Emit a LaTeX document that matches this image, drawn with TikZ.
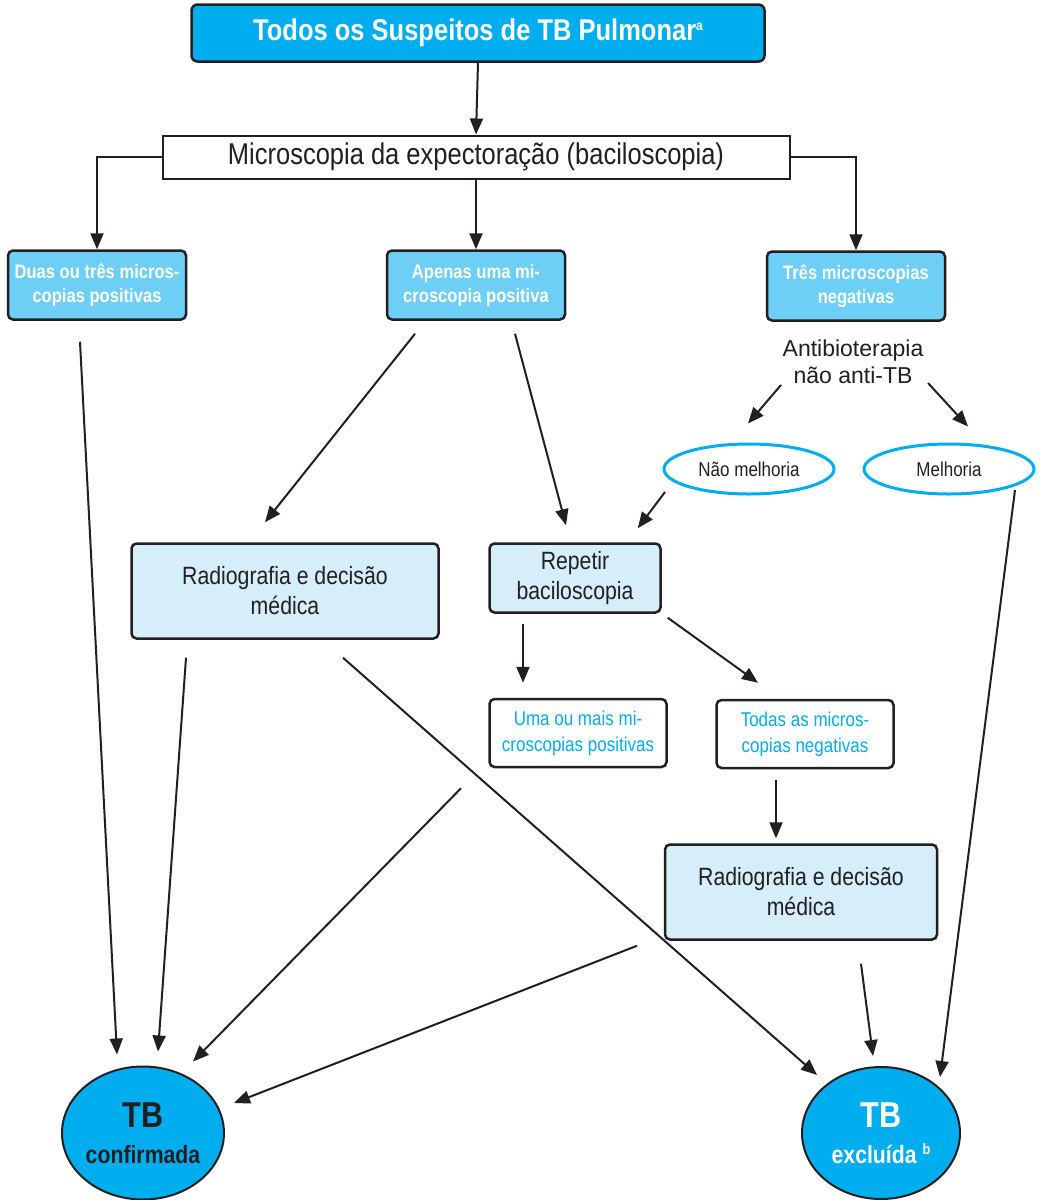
\documentclass[tikz,border=0pt]{standalone}
\usepackage{fontspec}
\setmainfont{Liberation Sans}
\newfontfamily\narrowfont{Liberation Sans}[FakeStretch=0.85]
\usetikzlibrary{arrows.meta,shapes.geometric}
\definecolor{tbblue}{HTML}{00AEEF}
\definecolor{midblue}{HTML}{6DCFF6}
\definecolor{paleblue}{HTML}{D6EEFA}
\definecolor{inkgray}{HTML}{231F20}
\newcommand{\fsz}[2]{\fontsize{#1}{#2}\selectfont}
\begin{document}
\begin{tikzpicture}[x=1pt, y=-1pt,
    every node/.style={font=\narrowfont, text=inkgray},
    arr/.style={-{Triangle[length=16pt,width=13pt]}, line width=2pt, draw=inkgray},
    headbox/.style={draw=inkgray, fill=tbblue, rounded corners=6pt, line width=2.5pt, text=white, font=\narrowfont\bfseries\fsz{30}{34}},
    stepbox/.style={draw=inkgray, fill=midblue, rounded corners=5pt, line width=2.5pt, align=center, text=white, font=\narrowfont\bfseries\fsz{19.5}{24}, minimum width=178pt, minimum height=69pt, inner sep=2pt},
    decbox/.style={draw=inkgray, fill=paleblue, rounded corners=5pt, line width=2.5pt, align=center, font=\narrowfont\fsz{25}{30}, inner sep=2pt},
    outbox/.style={draw=inkgray, fill=white, rounded corners=5pt, line width=2.5pt, align=center, text=tbblue, font=\narrowfont\fsz{20}{26}, minimum width=177pt, minimum height=68pt, inner sep=2pt},
    resp/.style={ellipse, draw=tbblue, line width=3pt, minimum width=170pt, minimum height=50pt, font=\narrowfont\fsz{20}{22}},
    final/.style={ellipse, draw=inkgray, fill=tbblue, line width=2pt, align=center, minimum width=157pt, minimum height=133pt, inner sep=0pt, font=\narrowfont\bfseries\fsz{25}{36}}]
\useasboundingbox (0,0) rectangle (1042,1200);
% cabecalho
\node[headbox, minimum width=573pt, minimum height=57pt] (top) at (478,33) {Todos os Suspeitos de TB Pulmonar\raisebox{0.35em}{\fsz{14}{15}a}};
\node[draw=inkgray, line width=2pt, fill=white, minimum width=627pt, minimum height=43pt, font=\narrowfont\fsz{30}{36}] (micro) at (476,157) {Microscopia da expectoração (baciloscopia)};
% resultados da microscopia
\node[stepbox] (duas) at (97,285) {Duas ou três micros-\\copias positivas};
\node[stepbox] (apenas) at (476,285) {Apenas uma mi-\\croscopia positiva};
\node[stepbox] (tres) at (856,286) {Três microscopias\\negativas};
\node[align=center, font=\fsz{23}{27}, inner sep=0pt] (antib) at (853,362) {Antibioterapia\\não anti-TB};
\node[resp] (nao) at (749,469) {Não melhoria};
\node[resp] (mel) at (949,469) {Melhoria};
% decisoes
\node[decbox, minimum width=307pt, minimum height=95pt] (radio1) at (285,591) {Radiografia e decisão\\médica};
\node[decbox, minimum width=171pt, minimum height=69pt] (repetir) at (575,578) {Repetir\\baciloscopia};
\node[outbox] (uma) at (578,733) {Uma ou mais mi-\\croscopias positivas};
\node[outbox] (todas) at (805,734) {Todas as micros-\\copias negativas};
\node[decbox, minimum width=272pt, minimum height=95pt] (radio2) at (801,892) {Radiografia e decisão\\médica};
% desfechos
\node[final] (conf) at (143,1133) {{\fsz{36}{36}TB}\\confirmada};
\node[final, text=white, minimum width=158pt, minimum height=132pt] (excl) at (881,1133) {{\fsz{36}{36}TB}\\excluída \raisebox{0.35em}{\fsz{15}{16}b}};
% ligacoes
\draw[arr] (top.south) -- (micro.north);
\draw[arr] (micro.west) -| (duas.north);
\draw[arr] (micro.south) -- (apenas.north);
\draw[arr] (micro.east) -| (tres.north);
\draw[arr] ([xshift=-17pt, yshift=-21pt]duas.south) -- ([xshift=-26pt, yshift=11pt]conf.north);
\draw[arr] ([xshift=-61pt, yshift=-13pt]apenas.south) -- ([xshift=-20pt, yshift=20pt]radio1.north);
\draw[arr] ([xshift=39pt, yshift=-13pt]apenas.south) -- ([xshift=-9pt, yshift=17pt]repetir.north);
\draw[arr] ([xshift=-72pt, yshift=-23pt]antib.center) -- ([xshift=-1pt, yshift=19pt]nao.north);
\draw[arr] ([xshift=75pt, yshift=-21pt]antib.center) -- ([xshift=19pt, yshift=16pt]mel.north);
\draw[arr] ([xshift=-84pt, yshift=-23pt]nao.center) -- ([xshift=-24pt, yshift=14pt]repetir.north east);
\draw[arr] ([xshift=66pt, yshift=-21pt]mel.center) -- ([xshift=59pt, yshift=-11pt]excl.north);
\draw[arr] ([xshift=-99pt, yshift=-18pt]radio1.south) -- ([xshift=15pt, yshift=14pt]conf.north);
\draw[arr] ([xshift=58pt, yshift=-18pt]radio1.south) -- ([xshift=-64pt, yshift=-9pt]excl.north);
\draw[arr] ([xshift=-52pt, yshift=-10pt]repetir.south) -- ([xshift=-55pt, yshift=15pt]uma.north);
\draw[arr] ([xshift=6pt, yshift=-4pt]repetir.south east) -- ([xshift=-47pt, yshift=16pt]todas.north);
\draw[arr] ([xshift=-117pt, yshift=-20pt]uma.south) -- ([xshift=50pt, yshift=4pt]conf.north);
\draw[arr] ([xshift=-29pt, yshift=-11pt]todas.south) -- ([xshift=-25pt, yshift=5pt]radio2.north);
\draw[arr] ([xshift=-164pt, yshift=-5pt]radio2.south) -- ([xshift=9pt, yshift=30pt]conf.east);
\draw[arr] ([xshift=60pt, yshift=-23pt]radio2.south) -- ([xshift=-8pt, yshift=10pt]excl.north);
\end{tikzpicture}
\end{document}
